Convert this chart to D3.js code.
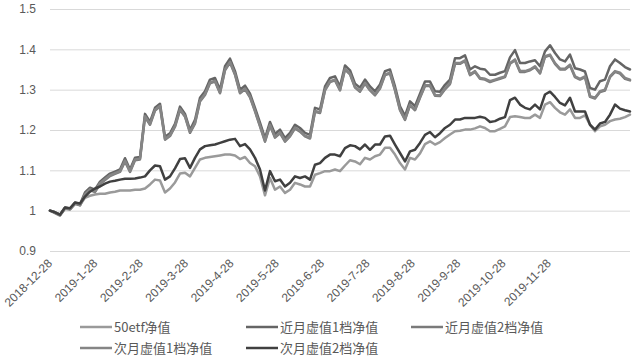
<!DOCTYPE html>
<html><head><meta charset="utf-8">
<script src="https://cdn.jsdelivr.net/npm/d3@7"></script>
<style>body{margin:0;background:#fff}svg{display:block}</style>
</head><body><svg id="c" width="641" height="361"></svg>
<script>
// category axis: trading days, one label every 19 trading days
const tradingDays = 244, labelInterval = 19;
const xTickLabels = ["2018-12-28","2019-1-28","2019-2-28","2019-3-28","2019-4-28","2019-5-28","2019-6-28","2019-7-28","2019-8-28","2019-9-28","2019-10-28","2019-11-28"];
const yTickValues = [0.9, 1, 1.1, 1.2, 1.3, 1.4, 1.5];
const yTickLabels = ["0.9", "1", "1.1", "1.2", "1.3", "1.4", "1.5"];
const seriesNames = ["50etf净值", "近月虚值1档净值", "近月虚值2档净值", "次月虚值1档净值", "次月虚值2档净值"];
const seriesColors = ["#9a9a9a", "#656565", "#7a7a7a", "#858585", "#404040"];

// values sampled evenly over the trading period
const etf50 = [1.000,0.996,0.990,1.006,1.004,1.018,1.014,1.032,1.037,1.040,1.042,1.042,1.045,1.047,1.050,1.050,1.050,1.052,1.052,1.055,
1.065,1.077,1.075,1.045,1.055,1.070,1.092,1.094,1.085,1.106,1.127,1.131,1.133,1.135,1.137,1.139,1.139,1.137,1.128,1.133,
1.118,1.110,1.085,1.038,1.081,1.052,1.060,1.044,1.052,1.069,1.065,1.060,1.060,1.089,1.093,1.098,1.098,1.102,1.098,1.112,
1.125,1.122,1.115,1.131,1.127,1.135,1.139,1.156,1.156,1.139,1.118,1.102,1.131,1.127,1.142,1.165,1.172,1.164,1.170,1.180,
1.189,1.197,1.198,1.201,1.201,1.204,1.209,1.205,1.197,1.197,1.203,1.209,1.232,1.234,1.232,1.230,1.230,1.238,1.230,1.263,
1.269,1.255,1.244,1.238,1.251,1.230,1.230,1.236,1.213,1.197,1.209,1.213,1.222,1.226,1.228,1.232,1.238];

const near1 = [1.000,0.996,0.990,1.008,1.005,1.020,1.016,1.045,1.057,1.052,1.072,1.082,1.092,1.097,1.102,1.130,1.102,1.131,1.133,1.240,
1.220,1.255,1.265,1.183,1.192,1.215,1.258,1.240,1.200,1.225,1.280,1.296,1.325,1.329,1.300,1.358,1.377,1.346,1.300,1.310,
1.290,1.255,1.218,1.180,1.220,1.190,1.201,1.180,1.193,1.213,1.205,1.193,1.188,1.255,1.251,1.308,1.329,1.333,1.308,1.360,
1.348,1.315,1.305,1.325,1.308,1.296,1.313,1.346,1.350,1.308,1.259,1.235,1.271,1.259,1.290,1.320,1.320,1.296,1.295,1.312,
1.325,1.378,1.378,1.385,1.350,1.358,1.352,1.350,1.337,1.337,1.342,1.346,1.380,1.398,1.366,1.366,1.370,1.373,1.358,1.395,
1.410,1.391,1.375,1.370,1.387,1.353,1.350,1.345,1.304,1.300,1.321,1.325,1.358,1.375,1.366,1.356,1.350];

const near2 = [1.000,0.994,0.988,1.005,1.003,1.017,1.013,1.039,1.051,1.046,1.066,1.076,1.086,1.091,1.096,1.122,1.096,1.125,1.127,1.232,
1.213,1.248,1.258,1.176,1.185,1.208,1.250,1.233,1.193,1.216,1.271,1.287,1.316,1.320,1.291,1.348,1.367,1.337,1.291,1.301,
1.281,1.246,1.209,1.171,1.211,1.181,1.192,1.171,1.184,1.204,1.196,1.184,1.179,1.245,1.242,1.298,1.319,1.323,1.298,1.350,
1.338,1.305,1.295,1.315,1.298,1.286,1.303,1.336,1.340,1.298,1.249,1.225,1.261,1.249,1.280,1.309,1.309,1.285,1.284,1.301,
1.314,1.364,1.364,1.371,1.336,1.344,1.327,1.325,1.319,1.323,1.327,1.331,1.364,1.373,1.344,1.344,1.348,1.356,1.340,1.381,
1.385,1.364,1.350,1.350,1.360,1.331,1.325,1.331,1.282,1.278,1.294,1.298,1.331,1.344,1.340,1.327,1.323];

const next1 = [1.000,0.995,0.989,1.006,1.004,1.018,1.014,1.041,1.053,1.048,1.068,1.078,1.088,1.093,1.098,1.124,1.098,1.127,1.129,1.234,
1.215,1.250,1.260,1.178,1.187,1.210,1.252,1.235,1.195,1.218,1.273,1.289,1.318,1.322,1.293,1.350,1.369,1.339,1.293,1.303,
1.283,1.248,1.211,1.173,1.213,1.183,1.194,1.173,1.186,1.206,1.198,1.186,1.181,1.247,1.244,1.300,1.321,1.325,1.300,1.352,
1.340,1.307,1.297,1.317,1.300,1.288,1.305,1.338,1.342,1.300,1.251,1.227,1.263,1.251,1.282,1.311,1.311,1.287,1.286,1.303,
1.316,1.366,1.366,1.373,1.338,1.346,1.329,1.327,1.321,1.325,1.329,1.333,1.366,1.375,1.346,1.346,1.350,1.358,1.342,1.383,
1.387,1.366,1.352,1.352,1.362,1.333,1.327,1.333,1.284,1.280,1.296,1.300,1.333,1.346,1.342,1.329,1.325];

const next2 = [1.000,0.996,0.990,1.008,1.006,1.020,1.018,1.035,1.047,1.055,1.060,1.067,1.072,1.074,1.077,1.079,1.079,1.080,1.082,1.085,
1.100,1.112,1.110,1.077,1.085,1.105,1.128,1.130,1.106,1.131,1.152,1.160,1.162,1.164,1.168,1.172,1.176,1.178,1.160,1.165,
1.152,1.131,1.102,1.050,1.098,1.073,1.077,1.060,1.069,1.085,1.081,1.085,1.077,1.114,1.118,1.131,1.139,1.139,1.135,1.155,
1.162,1.160,1.152,1.164,1.151,1.164,1.164,1.184,1.186,1.164,1.143,1.122,1.147,1.151,1.168,1.188,1.195,1.182,1.192,1.205,
1.213,1.226,1.226,1.230,1.230,1.230,1.233,1.230,1.220,1.222,1.228,1.232,1.274,1.280,1.263,1.255,1.251,1.263,1.251,1.288,
1.295,1.282,1.267,1.261,1.280,1.246,1.246,1.246,1.213,1.201,1.216,1.220,1.238,1.263,1.253,1.249,1.246];

const seriesValues = [etf50, near1, near2, next1, next2];

const svg = d3.select("#c");
const n = etf50.length;

const xDay = d3.scaleLinear().domain([0, tradingDays - 1]).range([50, 630]);
const x = d3.scaleLinear().domain([0, n - 1]).range([50, 630]);
const y = d3.scaleLinear().domain([0.9, 1.5]).range([251, 9]);

const font = "'Liberation Sans', Arial, sans-serif";
const cjk = "'Noto Sans CJK SC', 'Noto Sans', sans-serif";

// y axis with gridlines
const yAxis = svg.append("g").attr("transform", "translate(50,0)")
  .call(d3.axisLeft(y).tickValues(yTickValues).tickSize(-580).tickPadding(14)
    .tickFormat((d, i) => yTickLabels[i]));
yAxis.select(".domain").remove();
yAxis.selectAll(".tick line").attr("stroke", "#d9d9d9").attr("stroke-width", 1);
yAxis.selectAll(".tick text").attr("fill", "#595959").style("font-family", font).style("font-size", "12px");

// x tick labels (category axis, every labelInterval trading days)
svg.append("g").selectAll("text").data(xTickLabels).join("text")
  .attr("transform", (d, i) => `translate(${xDay(i * labelInterval) + 3},264) rotate(-45)`)
  .attr("text-anchor", "end")
  .attr("fill", "#595959")
  .style("font-family", font).style("font-size", "12px")
  .text(d => d);

// lines
const line = d3.line().x((d, i) => x(i)).y(d => y(d));
svg.append("g").selectAll("path").data(seriesValues).join("path")
  .attr("d", d => line(d))
  .attr("fill", "none")
  .attr("stroke", (d, i) => seriesColors[i])
  .attr("stroke-width", 2.5)
  .attr("stroke-linejoin", "round")
  .attr("stroke-linecap", "round");

// legend
const legendPos = [[80, 327], [246, 327], [411, 327], [80, 348], [246, 348]];
const lg = svg.append("g").selectAll("g").data(seriesNames).join("g")
  .attr("transform", (d, i) => `translate(${legendPos[i][0]},${legendPos[i][1]})`);
lg.append("line").attr("x1", 0).attr("x2", 32).attr("y1", 0).attr("y2", 0)
  .attr("stroke", (d, i) => seriesColors[i]).attr("stroke-width", 2.5);
lg.append("text").attr("x", 34).attr("y", 0).attr("dy", "0.35em")
  .attr("fill", "#595959").style("font-family", cjk).style("font-size", "13px")
  .text(d => d);
</script></body></html>
